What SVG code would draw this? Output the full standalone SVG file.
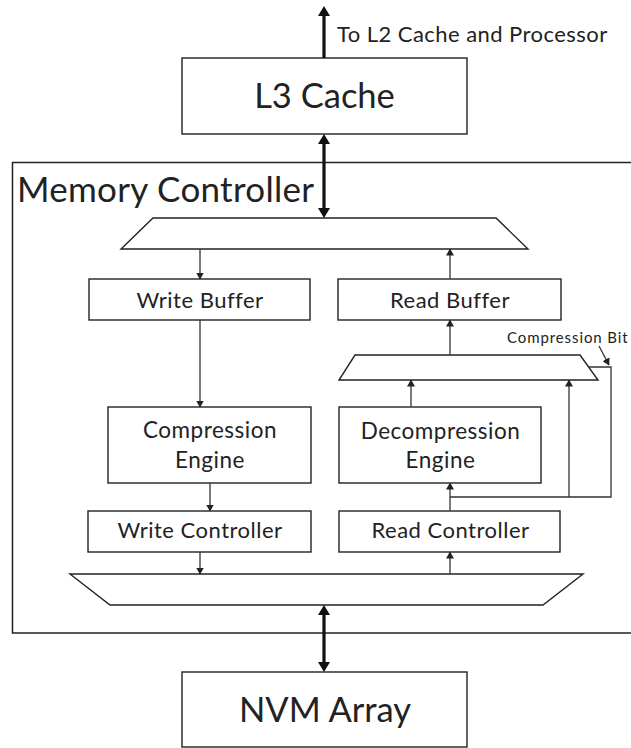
<svg xmlns="http://www.w3.org/2000/svg" width="631" height="748" viewBox="0 0 631 748">
<defs>
<style>
.box{fill:#fff;stroke:#222;stroke-width:1.4}
.mc{fill:#fff;stroke:#222;stroke-width:1.5}
.t{font-family:Lato,"Open Sans",sans-serif;fill:#222;text-anchor:middle}
.s{text-anchor:start}
.lbl{font-size:22px;letter-spacing:0.5px}
.eng{font-size:22.5px;letter-spacing:0.5px}
.big{font-size:34.5px}
.thin{fill:none;stroke:#333;stroke-width:1.3;marker-end:url(#ah)}
.line{fill:none;stroke:#333;stroke-width:1.3}
.thick{fill:none;stroke:#111;stroke-width:3.2}
</style>
<marker id="ah" viewBox="0 0 7 8" refX="6.5" refY="4" markerWidth="7" markerHeight="8" markerUnits="userSpaceOnUse" orient="auto-start-reverse">
<path d="M0,0 L7,4 L0,8 z" fill="#222"/>
</marker>
<marker id="bh" viewBox="0 0 10 12" refX="7" refY="6" markerWidth="10" markerHeight="12" markerUnits="userSpaceOnUse" orient="auto-start-reverse">
<path d="M0,0 L10,6 L0,12 z" fill="#111"/>
</marker>
</defs>
<rect width="631" height="748" fill="#fff"/>

<g id="memory-controller">
<rect class="mc" x="12.5" y="162.5" width="640" height="470.5"/>
<text class="t s" x="17" y="202" font-size="35" letter-spacing="0.3">Memory Controller</text>
</g>

<g id="l3-cache">
<rect class="box" x="182" y="58" width="285" height="76"/>
<text class="t big" x="324.5" y="108">L3 Cache</text>
</g>

<g id="top-mux">
<polygon class="box" points="153,218 496,218 528,249 121,249"/>
</g>

<g id="write-buffer">
<rect class="box" x="89" y="279" width="221" height="41"/>
<text class="t lbl" x="200" y="308">Write Buffer</text>
</g>

<g id="read-buffer">
<rect class="box" x="338" y="279" width="223" height="41"/>
<text class="t lbl" x="450" y="308">Read Buffer</text>
</g>

<g id="read-mux">
<polygon class="box" points="355,355 580,355 598,380 339,380"/>
</g>

<g id="compression-engine">
<rect class="box" x="108" y="407" width="203" height="76"/>
<text class="t eng" x="210" y="438">Compression</text>
<text class="t eng" x="210" y="468">Engine</text>
</g>

<g id="decompression-engine">
<rect class="box" x="339" y="407" width="202" height="76"/>
<text class="t eng" x="440.5" y="439">Decompression</text>
<text class="t eng" x="440.5" y="468">Engine</text>
</g>

<g id="write-controller">
<rect class="box" x="88" y="511" width="223" height="41"/>
<text class="t lbl" x="200" y="538">Write Controller</text>
</g>

<g id="read-controller">
<rect class="box" x="339" y="511" width="221" height="41"/>
<text class="t lbl" x="450.5" y="538" letter-spacing="0.6">Read Controller</text>
</g>

<g id="bottom-mux">
<polygon class="box" points="70,574 583,574 543,605 110,605"/>
</g>

<g id="nvm-array">
<rect class="box" x="182" y="672" width="285" height="75"/>
<text class="t big" x="325" y="722">NVM Array</text>
</g>

<g id="labels">
<text class="t s" x="337" y="42" font-size="22" letter-spacing="0.45">To L2 Cache and Processor</text>
<text class="t s" x="507" y="343" font-size="15" letter-spacing="0.9">Compression Bit</text>
</g>

<g id="connectors">
<line class="thick" x1="324" y1="58" x2="324" y2="9" marker-end="url(#bh)"/>
<line class="thick" x1="324" y1="137" x2="324" y2="215" marker-start="url(#bh)" marker-end="url(#bh)"/>
<line class="thick" x1="324" y1="608" x2="324" y2="669" marker-start="url(#bh)" marker-end="url(#bh)"/>

<line class="thin" x1="200" y1="249" x2="200" y2="279"/>
<line class="thin" x1="450" y1="279" x2="450" y2="249"/>
<line class="thin" x1="200" y1="320" x2="200" y2="407"/>
<line class="thin" x1="450" y1="355" x2="450" y2="320"/>
<line class="thin" x1="411" y1="407" x2="411" y2="380"/>
<line class="thin" x1="210" y1="483" x2="210" y2="511"/>
<line class="thin" x1="450" y1="511" x2="450" y2="483"/>
<line class="thin" x1="200" y1="552" x2="200" y2="574"/>
<line class="thin" x1="450" y1="574" x2="450" y2="552"/>

<polyline class="line" points="450,497 611,497 611,367 589,367"/>
<line class="thin" x1="569" y1="497" x2="569" y2="380"/>
<line class="thin" x1="599" y1="346" x2="609" y2="365"/>
</g>
</svg>
